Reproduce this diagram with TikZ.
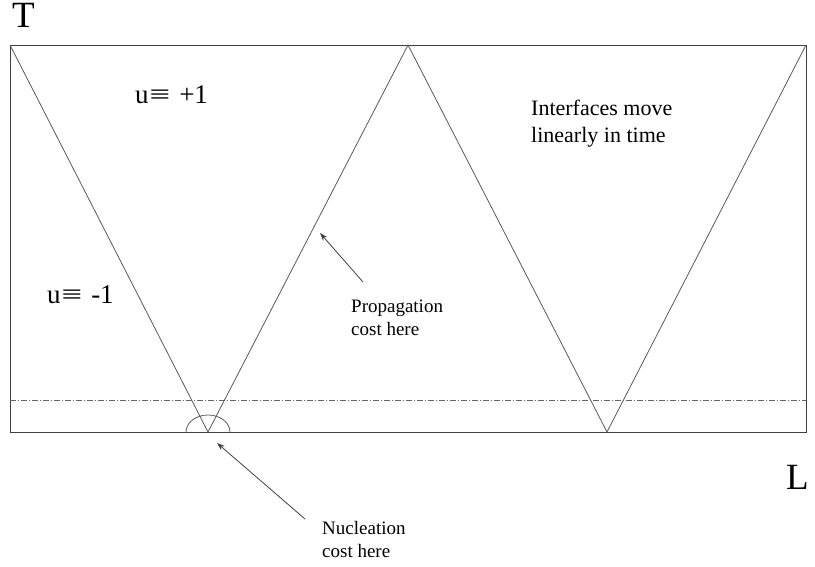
\documentclass[tikz,border=0pt]{standalone}
\usepackage{fontspec}
\setmainfont{Liberation Serif}
\usetikzlibrary{arrows.meta}
\begin{document}
\begin{tikzpicture}[x=1pt,y=-1pt,
  frame/.style={draw=black!75,line width=0.9pt},
  front/.style={draw=black!65,line width=0.8pt},
  dashdotline/.style={draw=black!60,line width=0.6pt,dash pattern=on 6pt off 2pt on 1pt off 2pt},
  pointer/.style={draw=black!75,line width=0.8pt,-{Stealth[length=8pt,width=5.5pt]}},
  lbl/.style={inner sep=0pt,anchor=base west,align=left},
]
\useasboundingbox (0,0) rectangle (815,567);
% corners and vertices
\coordinate (tl) at (10,45);
\coordinate (tm) at (408,45);
\coordinate (tr) at (806,45);
\coordinate (bl) at (10,432);
\coordinate (br) at (806,432);
\coordinate (v1) at (208,432);
\coordinate (v2) at (607,432);
\coordinate (dl) at (10,400);
\coordinate (dr) at (806,400);
% frame
\draw[frame] (tl) -- (tr) -- (br) -- (bl) -- cycle;
% interfaces
\draw[front] (tl) -- (v1) -- (tm) -- (v2) -- (tr);
% dash-dot line
\draw[dashdotline] (dl) -- (dr);
% nucleation arc
\draw[front] (186,432) arc[start angle=180,end angle=360,x radius=22,y radius=17];
% axis labels
\node[lbl,font=\fontsize{37}{40}\selectfont] (T) at (12,28) {T};
\node[lbl,font=\fontsize{37}{40}\selectfont] (L) at (786,489) {L};
% region labels
\node[lbl,font=\fontsize{27}{30}\selectfont] (up) at (135,104) {u\kern1pt\scalebox{1.35}[1]{≡}\hspace{9pt}+1};
\node[lbl,font=\fontsize{27}{30}\selectfont] (um) at (47,303) {u\kern1pt\scalebox{1.35}[1]{≡}\hspace{9pt}-1};
\node[lbl,font=\fontsize{22}{27}\selectfont] (intf) at (531,143) {Interfaces move\\linearly in time};
\node[lbl,font=\fontsize{19}{22.5}\selectfont] (prop) at (351,335) {Propagation\\cost here};
\node[lbl,font=\fontsize{19}{22.5}\selectfont] (nucl) at (322,557) {Nucleation\\cost here};
% pointers
\coordinate (ptail) at (363,282);
\coordinate (ptip) at (320,233);
\coordinate (ntail) at (305,519);
\coordinate (ntip) at (217,443);
\draw[pointer] (ptail) -- (ptip);
\draw[pointer] (ntail) -- (ntip);
\end{tikzpicture}
\end{document}
